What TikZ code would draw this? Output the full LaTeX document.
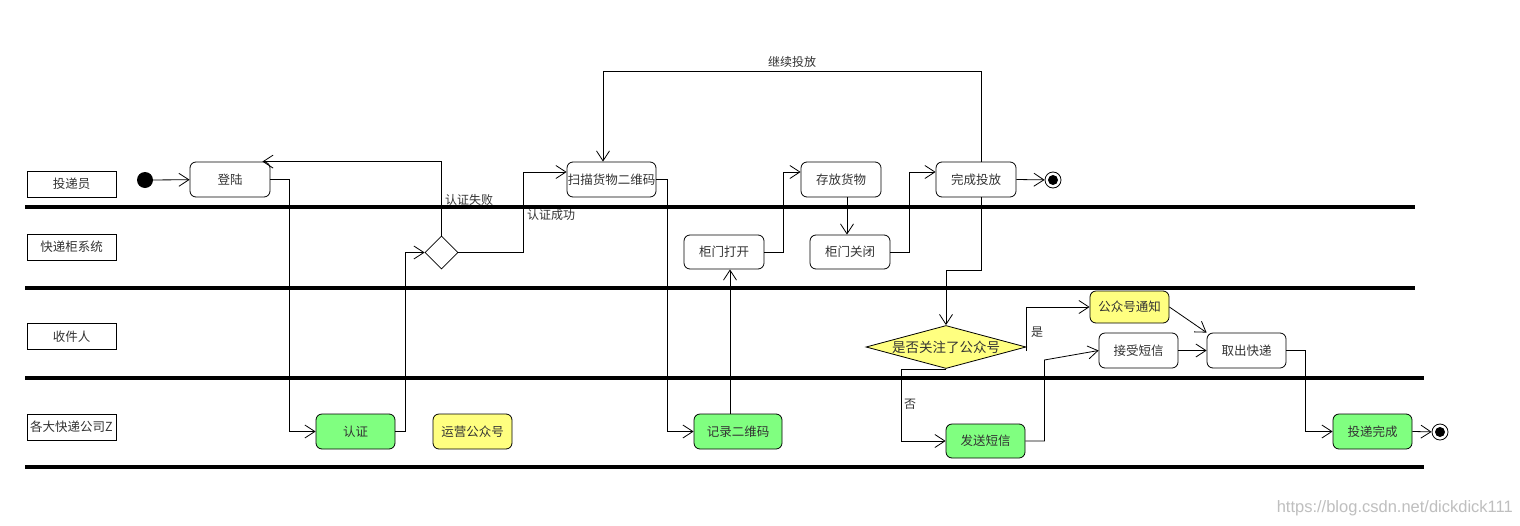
\documentclass[tikz,border=0pt]{standalone}
\usepackage{fontspec}
\setmainfont{Noto Sans CJK SC}
\newfontfamily\urlfont{Liberation Sans}
\usetikzlibrary{arrows.meta,shapes.geometric,calc}
\definecolor{actgreen}{HTML}{80FF80}
\definecolor{actyellow}{HTML}{FFFF80}
\definecolor{txt}{HTML}{333333}
\begin{document}
\begin{tikzpicture}[x=1pt,y=1pt,
  every node/.style={font=\fontsize{12.5}{14}\selectfont, text=txt},
  act/.style={draw, line width=0.8pt, rounded corners=6pt, minimum width=80pt, minimum height=35pt, inner sep=0pt},
  lane/.style={draw, line width=0.8pt, minimum width=89pt, minimum height=26pt, inner sep=0pt},
  lbl/.style={inner sep=0pt},
  sep/.style={line width=4.5pt},
  arr/.style={line width=0.8pt, -{Straight Barb[length=10pt,width=13pt,line width=0.8pt]}},
  con/.style={line width=0.8pt},
  decision/.style={draw, line width=0.8pt, diamond, inner sep=0pt}
]
\useasboundingbox (0,0) rectangle (1520,-525);
\fill[white] (0,0) rectangle (1520,-525);

% lane separators
\draw[sep] (25,-207) -- (1415,-207);
\draw[sep] (25,-288) -- (1415,-288);
\draw[sep] (25,-378) -- (1424,-378);
\draw[sep] (25,-467) -- (1424,-467);

% lane labels
\node[lane] (l1) at (71.5,-184) {投递员};
\node[lane] (l2) at (71.5,-247) {快递柜系统};
\node[lane] (l3) at (71.5,-336.5) {收件人};
\node[lane] (l4) at (71.5,-427) {各大快递公司Z};

% start / end
\node[circle, fill=black, minimum size=16pt, inner sep=0pt] (start) at (145,-180) {};
\node[circle, draw, line width=0.8pt, fill=white, minimum size=16pt, inner sep=0pt] (end1) at (1053,-180) {};
\node[circle, fill=black, minimum size=10pt, inner sep=0pt] (end1i) at (1053,-180) {};
\node[circle, draw, line width=0.8pt, fill=white, minimum size=16pt, inner sep=0pt] (end2) at (1440,-432) {};
\node[circle, fill=black, minimum size=10pt, inner sep=0pt] (end2i) at (1440,-432) {};

% activities
\node[act] (denglu) at (230,-179.5) {登陆};
\node[act, minimum width=89pt] (saomiao) at (611.5,-179.5) {扫描货物二维码};
\node[act] (cunfang) at (841,-179.5) {存放货物};
\node[act] (wancheng) at (976,-179.5) {完成投放};
\node[act, minimum height=34pt] (dakai) at (724,-252) {柜门打开};
\node[act, minimum height=34pt] (guanbi) at (850,-252) {柜门关闭};
\node[act, fill=actgreen, minimum width=79pt] (renzheng) at (355.5,-431.5) {认证};
\node[act, fill=actyellow, minimum width=79pt] (yunying) at (472.5,-431.5) {运营公众号};
\node[act, fill=actgreen, minimum width=88pt] (jilu) at (738,-431.5) {记录二维码};
\node[act, fill=actgreen, minimum width=79pt, minimum height=34pt] (fasong) at (985.5,-441) {发送短信};
\node[act, fill=actyellow, minimum width=79pt, minimum height=32pt] (gzh) at (1129.5,-307) {公众号通知};
\node[act, minimum width=79pt] (jieshou) at (1138.5,-350.5) {接受短信};
\node[act, minimum width=79pt] (quchu) at (1246.5,-350.5) {取出快递};
\node[act, fill=actgreen, minimum width=79pt] (toudi) at (1372.5,-431.5) {投递完成};

% decisions
\node[decision, minimum width=33pt, minimum height=33pt] (d1) at (441.5,-252.5) {};
\node[decision, fill=actyellow, minimum width=160pt, minimum height=43pt, shape aspect=3.7, font=\fontsize{13.5}{15}\selectfont] (d2) at (946,-347) {是否关注了公众号};

% connectors
\draw[arr] (start) -- (denglu);
\draw[arr] (denglu.east) -- ++(19,0) |- (renzheng.west);
\draw[arr] (renzheng.east) -- ++(10,0) |- (d1.west);
\draw[arr] (d1.north) |- ([xshift=-8pt]denglu.north east);
\draw[arr] (d1.east) -- ++(64.5,0) |- ([yshift=7.5pt]saomiao.west);
\draw[arr] ([xshift=5pt]wancheng.north) -- ++(0,90) -| ([xshift=-8.5pt]saomiao.north);
\draw[arr] (saomiao.east) -- ++(11,0) |- (jilu.west);
\draw[arr] ([xshift=-8pt]jilu.north) -- ([xshift=6pt]dakai.south);
\draw[arr] (dakai.east) -- ++(19,0) |- ([yshift=7.5pt]cunfang.west);
\draw[arr] ([xshift=6pt]cunfang.south) -- ([xshift=-3pt]guanbi.north);
\draw[arr] (guanbi.east) -- ++(19,0) |- ([yshift=7.5pt]wancheng.west);
\draw[arr] (wancheng.east) -- (end1);
\draw[arr] ([xshift=5pt]wancheng.south) -- ++(0,-73) -| (d2.north);
\draw[arr] ([yshift=-4pt]d2.east) |- (gzh.west);
\draw[arr] (d2.south) -- ++(-45,0) |- (fasong.west);
\draw[arr] (fasong.east) -- ++(19,0) -- ++(0,81) -- (jieshou.west);
\draw[arr] (jieshou.east) -- (quchu.west);
\draw[arr] (gzh.east) -- (quchu.north west);
\draw[arr] (quchu.east) -- ++(19,0) |- (toudi.west);
\draw[arr] (toudi.east) -- (end2);

% labels
\node[lbl, font=\fontsize{12}{14}\selectfont] (t1) at (469,-200) {认证失败};
\node[lbl, font=\fontsize{12}{14}\selectfont] (t2) at (551,-215) {认证成功};
\node[lbl, font=\fontsize{12}{14}\selectfont] (t3) at (792,-62) {继续投放};
\node[lbl, font=\fontsize{12}{14}\selectfont] (t4) at (1037,-332) {是};
\node[lbl, font=\fontsize{12}{14}\selectfont] (t5) at (910,-404) {否};

% watermark
\node[lbl, anchor=east, font=\urlfont\fontsize{16.5}{18}\selectfont, text=black!25] (wm) at (1513,-508) {https://blog.csdn.net/dickdick111};
\end{tikzpicture}
\end{document}
